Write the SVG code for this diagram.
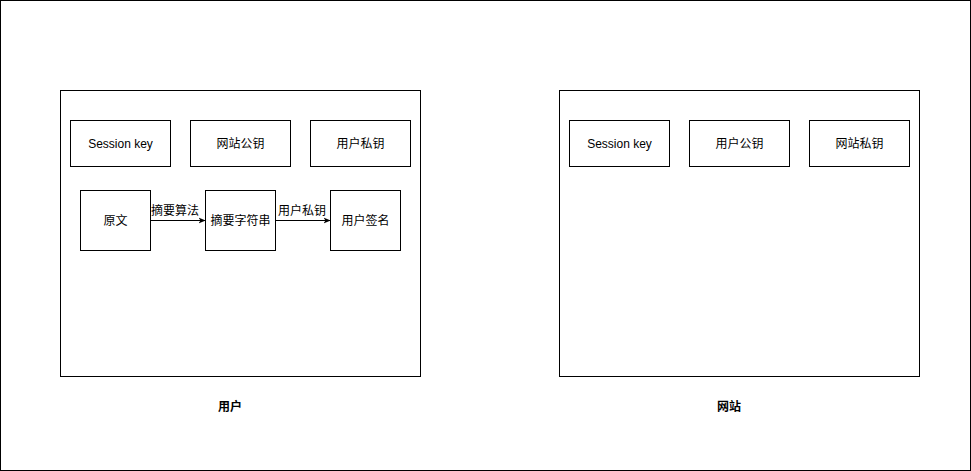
<svg xmlns="http://www.w3.org/2000/svg" width="971" height="471" viewBox="0 0 971 471">
<style>
.box{fill:#ffffff;stroke:#000000;stroke-width:1}
.t{font-family:"Liberation Sans","Noto Sans CJK SC",sans-serif;font-size:12px;fill:#000000;text-anchor:middle;dominant-baseline:central}
.b{font-weight:bold}
.edge{fill:none;stroke:#000000;stroke-width:1}
</style>
<defs>
<marker id="arr" viewBox="0 0 10 10" refX="9" refY="5" markerWidth="7" markerHeight="7" markerUnits="userSpaceOnUse" orient="auto">
<path d="M0,1 L10,5 L0,9 L2.5,5 Z" fill="#000000"/>
</marker>
</defs>
<rect x="0.5" y="0.5" width="970" height="470" fill="#ffffff" stroke="#000000" stroke-width="1"/>
<g id="user-panel">
<rect class="box" x="60.5" y="90.5" width="360" height="286"/>
<text class="t b" x="230" y="407">用户</text>
</g>
<g id="site-panel">
<rect class="box" x="559.5" y="90.5" width="360" height="286"/>
<text class="t b" x="729" y="407">网站</text>
</g>
<g id="u-session"><rect class="box" x="70.5" y="120.5" width="100" height="46"/><text class="t" x="120.5" y="143.5">Session key</text></g>
<g id="u-sitepub"><rect class="box" x="190.5" y="120.5" width="100" height="46"/><text class="t" x="240.5" y="143.5">网站公钥</text></g>
<g id="u-userpriv"><rect class="box" x="310.5" y="120.5" width="100" height="46"/><text class="t" x="360.5" y="143.5">用户私钥</text></g>
<g id="s-session"><rect class="box" x="569.5" y="120.5" width="100" height="46"/><text class="t" x="619.5" y="143.5">Session key</text></g>
<g id="s-userpub"><rect class="box" x="689.5" y="120.5" width="100" height="46"/><text class="t" x="739.5" y="143.5">用户公钥</text></g>
<g id="s-sitepriv"><rect class="box" x="809.5" y="120.5" width="100" height="46"/><text class="t" x="859.5" y="143.5">网站私钥</text></g>
<g id="plain"><rect class="box" x="80.5" y="190.5" width="70" height="60"/><text class="t" x="115.5" y="220.5">原文</text></g>
<g id="digest"><rect class="box" x="205.5" y="190.5" width="70" height="60"/><text class="t" x="240.5" y="220.5">摘要字符串</text></g>
<g id="sign"><rect class="box" x="330.5" y="190.5" width="70" height="60"/><text class="t" x="365.5" y="220.5">用户签名</text></g>
<g id="connectors">
<path class="edge" d="M150.5,220.5 L205,220.5" marker-end="url(#arr)"/>
<text class="t" x="175" y="211">摘要算法</text>
<path class="edge" d="M275.5,220.5 L330,220.5" marker-end="url(#arr)"/>
<text class="t" x="302" y="211">用户私钥</text>
</g>
</svg>
